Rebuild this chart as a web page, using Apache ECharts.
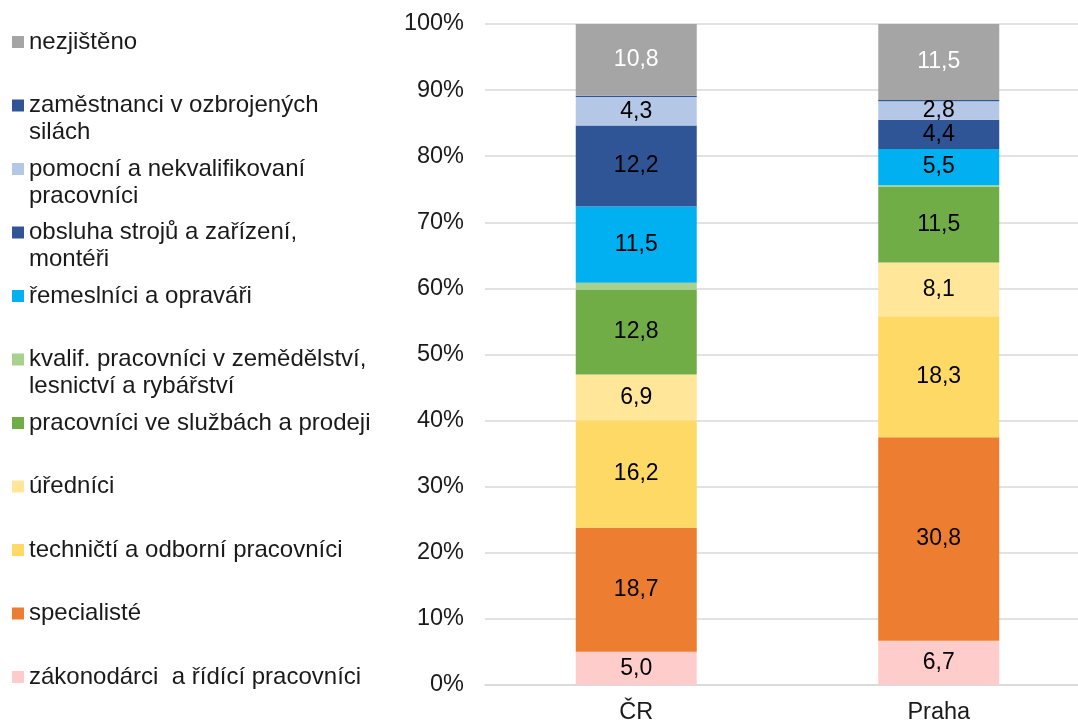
<!DOCTYPE html>
<html>
<head>
<meta charset="utf-8">
<script src="https://cdn.jsdelivr.net/npm/echarts@6/dist/echarts.min.js"></script>
<style>
  html, body { margin: 0; padding: 0; background: #fff; }
  #chart { width: 1078px; height: 722px; }
</style>
</head>
<body>
<div id="chart"></div>
<script>
// kategorie (sloupce)
var categories = ['ČR', 'Praha'];

// skupiny zaměstnání, odspodu nahoru
var groups = [
  'zákonodárci  a řídící pracovníci',
  'specialisté',
  'techničtí a odborní pracovníci',
  'úředníci',
  'pracovníci ve službách a prodeji',
  'kvalif. pracovníci v zemědělství,\nlesnictví a rybářství',
  'řemeslníci a opraváři',
  'obsluha strojů a zařízení,\nmontéři',
  'pomocní a nekvalifikovaní\npracovníci',
  'zaměstnanci v ozbrojených\nsilách',
  'nezjištěno'
];

// podíly v % (stejné pořadí jako groups)
var valuesCR    = [5.0, 18.7, 16.2, 6.9, 12.8, 1.0, 11.5, 12.2, 4.3, 0.2, 10.8];
var valuesPraha = [6.7, 30.8, 18.3, 8.1, 11.5, 0.2, 5.5, 4.4, 2.8, 0.2, 11.5];

var yTicks = [0, 10, 20, 30, 40, 50, 60, 70, 80, 90, 100];

var colors = ['#FFCCCC', '#ED7D31', '#FFD966', '#FFE699', '#70AD47', '#A9D18E',
              '#00B0F0', '#2F5597', '#B4C7E7', '#2F5597', '#A5A5A5'];
var noLabel = [5, 9];      // tenké pruhy bez popisku
var whiteLabel = [10];     // nezjištěno - bílý popisek

var font = '"Liberation Sans", Arial, sans-serif';
var rows = [valuesCR, valuesPraha];

function total(arr) {
  var s = 0;
  for (var i = 0; i < arr.length; i++) s += arr[i];
  return s;
}
var totals = rows.map(total);

function fmt(v) {
  return v.toFixed(1).replace('.', ',');
}

// 100% skládaný graf: hodnoty přepočteny na součet sloupce
var series = groups.map(function (name, gi) {
  return {
    name: name,
    type: 'bar',
    stack: 'all',
    barWidth: 121,
    itemStyle: { color: colors[gi] },
    label: {
      show: noLabel.indexOf(gi) < 0,
      position: 'inside',
      fontSize: 23,
      fontFamily: font,
      color: whiteLabel.indexOf(gi) >= 0 ? '#fff' : '#000',
      formatter: function (p) { return fmt(rows[p.dataIndex][gi]); }
    },
    emphasis: { disabled: true },
    data: rows.map(function (r, ci) { return r[gi] / totals[ci] * 100; })
  };
});

// legenda: každá položka má 3 řádky, aby první řádek textu byl u značky
function legendText(name) {
  return '\n' + name + (name.indexOf('\n') >= 0 ? '' : '\n');
}

var option = {
  animation: false,
  backgroundColor: '#fff',
  textStyle: { fontFamily: font },
  legend: {
    orient: 'vertical',
    left: 12,
    top: 1.5,
    padding: 0,
    itemGap: -17.5,
    itemWidth: 12,
    itemHeight: 12,
    icon: 'rect',
    selectedMode: false,
    formatter: legendText,
    textStyle: { fontSize: 24, lineHeight: 27, color: '#1a1a1a', fontFamily: font },
    data: groups.slice().reverse()
  },
  grid: { left: 485, top: 24, width: 605, bottom: 37, outerBoundsMode: 'none', containLabel: false },
  xAxis: {
    type: 'category',
    data: categories,
    axisLine: { lineStyle: { color: '#D9D9D9', width: 1.5 } },
    axisTick: { show: false },
    axisLabel: { fontSize: 23.5, color: '#1a1a1a', margin: 16, fontFamily: font }
  },
  yAxis: {
    type: 'value',
    min: yTicks[0],
    max: yTicks[yTicks.length - 1],
    interval: yTicks[1] - yTicks[0],
    axisLine: { show: false },
    axisTick: { show: false },
    splitLine: { lineStyle: { color: '#D9D9D9', width: 1.5 } },
    axisLabel: { fontSize: 23.5, color: '#1a1a1a', margin: 21, fontFamily: font, formatter: '{value}%' }
  },
  series: series
};

var myChart = echarts.init(document.getElementById('chart'));
myChart.setOption(option);
</script>
</body>
</html>
